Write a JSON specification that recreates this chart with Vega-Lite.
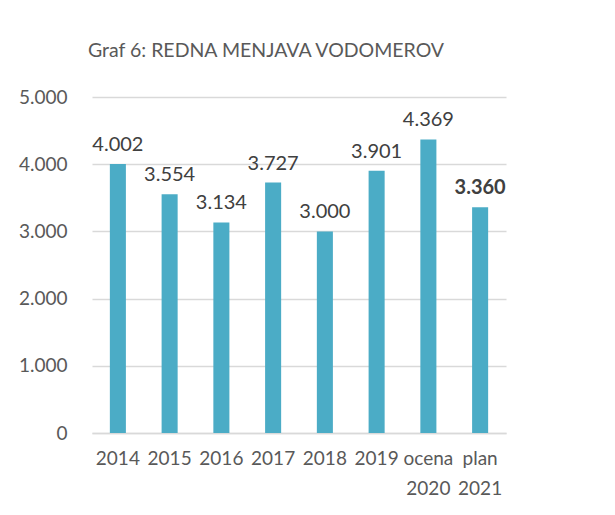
{
  "$schema": "https://vega.github.io/schema/vega-lite/v6.json",
  "width": 414,
  "height": 336,
  "autosize": {"type": "none"},
  "padding": {"left": 92, "top": 97, "right": 109, "bottom": 82},
  "background": "white",
  "config": {
    "font": "Lato",
    "view": {"stroke": null},
    "locale": {"number": {"decimal": ",", "thousands": ".", "grouping": [3], "currency": ["", " €"]}}
  },
  "title": {
    "text": "Graf 6: REDNA MENJAVA VODOMEROV",
    "fontSize": 19.5,
    "fontWeight": "normal",
    "color": "#595959",
    "font": "Lato",
    "anchor": "middle",
    "dx": -33,
    "offset": 27
  },
  "data": {
    "values": [
      {"leto": "2014", "vrednost": 4002},
      {"leto": "2015", "vrednost": 3554},
      {"leto": "2016", "vrednost": 3134},
      {"leto": "2017", "vrednost": 3727},
      {"leto": "2018", "vrednost": 3000},
      {"leto": "2019", "vrednost": 3901},
      {"leto": "ocena 2020", "vrednost": 4369},
      {"leto": "plan 2021", "vrednost": 3360}
    ]
  },
  "encoding": {
    "x": {
      "field": "leto",
      "type": "nominal",
      "sort": null,
      "scale": {"paddingInner": 0.69, "paddingOuter": 0.345},
      "axis": {
        "title": null,
        "labelAngle": 0,
        "labelExpr": "split(datum.label, ' ')",
        "labelFontSize": 19,
        "labelColor": "#595959",
        "labelPadding": 16,
        "labelLineHeight": 30,
        "ticks": false,
        "domainColor": "#d9d9d9",
        "domainWidth": 1.5
      }
    },
    "y": {
      "field": "vrednost",
      "type": "quantitative",
      "scale": {"domain": [0, 5000]},
      "axis": {
        "title": null,
        "values": [0, 1000, 2000, 3000, 4000, 5000],
        "format": ",d",
        "labelFontSize": 19,
        "labelColor": "#595959",
        "labelPadding": 25,
        "ticks": false,
        "domain": false,
        "gridColor": "#d9d9d9",
        "gridWidth": 1.5
      }
    }
  },
  "layer": [
    {"mark": {"type": "bar", "color": "#4BACC6"}},
    {
      "transform": [{"filter": "datum.leto != 'plan 2021'"}],
      "mark": {"type": "text", "baseline": "bottom", "dy": -9, "fontSize": 20, "color": "#404040"},
      "encoding": {"text": {"field": "vrednost", "type": "quantitative", "format": ",d"}}
    },
    {
      "transform": [{"filter": "datum.leto == 'plan 2021'"}],
      "mark": {"type": "text", "baseline": "bottom", "dy": -9, "fontSize": 20, "fontWeight": "bold", "color": "#404040"},
      "encoding": {"text": {"field": "vrednost", "type": "quantitative", "format": ",d"}}
    }
  ]
}
